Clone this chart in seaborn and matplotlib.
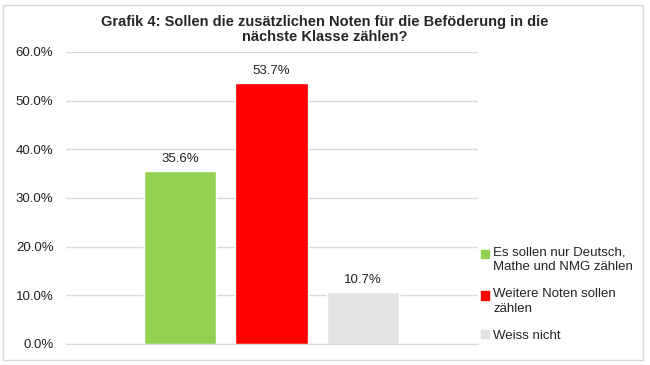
import matplotlib
matplotlib.use("Agg")
import matplotlib.pyplot as plt
import matplotlib.patches as mpatches
from matplotlib.legend_handler import HandlerPatch
from matplotlib.ticker import FuncFormatter
import seaborn as sns
import pandas as pd

# Data
categories = ["Es sollen nur Deutsch,\nMathe und NMG zählen",
              "Weitere Noten sollen\nzählen",
              "Weiss nicht"]
values = [0.356, 0.537, 0.107]
colors = ["#92D050", "#FF0000", "#E3E3E3"]
title = "Grafik 4: Sollen die zusätzlichen Noten für die Beföderung in die\nnächste Klasse zählen?"

sns.set_style("white")
plt.rcParams["font.family"] = ["Liberation Sans", "DejaVu Sans"]

df = pd.DataFrame({"cat": categories, "val": values})

fig = plt.figure(figsize=(6.5, 3.65), dpi=100)
ax = fig.add_axes([66 / 650, 1 - 344 / 365, (478 - 66) / 650, (344 - 52) / 365])

sns.barplot(data=df, x="cat", y="val", hue="cat", palette=colors,
            width=0.79, legend=False, ax=ax, saturation=1)

# Excel-like spacing: bar centres at 180, 270.5, 363 px
ax.set_xlim(-1.246, 3.257)
ax.set_ylim(0, 0.6)
ax.set_yticks([0, 0.1, 0.2, 0.3, 0.4, 0.5, 0.6])
ax.yaxis.set_major_formatter(FuncFormatter(lambda v, p: f"{v * 100:.1f}%"))
ax.tick_params(axis="y", labelsize=9.5, length=0, pad=9, colors="#222222")
ax.set_xticks([])
ax.set_xlabel("")
ax.set_ylabel("")
ax.grid(axis="y", color="#D9D9D9", linewidth=1)
ax.set_axisbelow(True)
for s in ["top", "right", "left"]:
    ax.spines[s].set_visible(False)
ax.spines["bottom"].set_color("#D9D9D9")

for i, v in enumerate(values):
    ax.text(i, v + 0.012, f"{v * 100:.1f}%", ha="center", va="bottom",
            fontsize=9.5, color="#222222")

fig.text(0.5, 0.958, title, ha="center", va="top",
         fontsize=10.5, fontweight="bold", linespacing=1.1)


# legend squares sit on the first line of a two-line label, like Excel does
def make_handler(shift):
    def patch_func(legend, orig_handle, xdescent, ydescent, width, height, fontsize):
        return mpatches.Rectangle((-xdescent, -ydescent + shift), width, height)
    return HandlerPatch(patch_func=patch_func)


handles = [mpatches.Patch(color=c, label=l) for c, l in zip(colors, categories)]
hmap = {h: make_handler(4.3 if "\n" in h.get_label() else 0) for h in handles}
leg = fig.legend(handles=handles, handler_map=hmap, loc="upper left",
                 bbox_to_anchor=(476 / 650, 1 - 241 / 365),
                 frameon=False, fontsize=9.5, handlelength=0.6, handleheight=0.6,
                 handletextpad=0.3, labelspacing=1.1, borderaxespad=0)
for t in leg.get_texts():
    t.set_linespacing(1.35)
    t.set_color("#222222")

# light frame round the whole chart
fig.patches.append(mpatches.Rectangle((3 / 650, 5 / 365), 640 / 650, 355 / 365,
                                      transform=fig.transFigure, fill=False,
                                      edgecolor="#D9D9D9", linewidth=1))

fig.savefig("out.png", dpi=100)
